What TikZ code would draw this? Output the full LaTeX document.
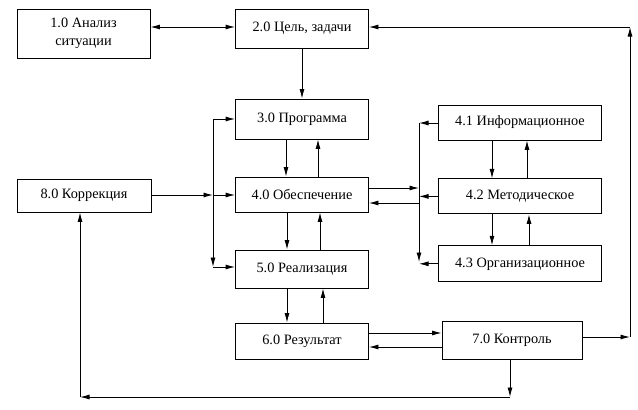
\documentclass[tikz,border=0pt]{standalone}
\usepackage{fontspec}
\setmainfont{Liberation Serif}
\newfontfamily\blokfont{Liberation Serif}
\usetikzlibrary{arrows.meta,positioning}

\begin{document}
\begin{tikzpicture}[
    x=1pt, y=-1pt,
    every node/.style={font=\blokfont\fontsize{14.3}{18}\selectfont},
    blok/.style={draw, line width=0.9pt, inner sep=0pt, align=center},
    arr/.style={-{Latex[length=9.5pt,width=5pt]}, line width=0.9pt},
    dvarr/.style={{Latex[length=9.5pt,width=5pt]}-{Latex[length=9.5pt,width=5pt]}, line width=0.9pt}
    ]
    \useasboundingbox (0,0) rectangle (638,410);

    \node[blok, minimum width=133pt, minimum height=49pt] (n1) at (83.5,33.5) {1.0 Анализ\\ситуации};
    \node[blok, minimum width=133pt, minimum height=39pt] (n2) at (302,28.5) {2.0 Цель, задачи};
    \node[blok, minimum width=133pt, minimum height=40pt] (n3) at (302,119) {3.0 Программа};
    \node[blok, minimum width=133pt, minimum height=35pt] (n4) at (302,194.5) {4.0 Обеспечение};
    \node[blok, minimum width=133pt, minimum height=38pt] (n5) at (302,269) {5.0 Реализация};
    \node[blok, minimum width=133pt, minimum height=36pt] (n6) at (302,341) {6.0 Результат};
    \node[blok, minimum width=140pt, minimum height=38pt] (n7) at (512,340) {7.0 Контроль};
    \node[blok, minimum width=134pt, minimum height=33pt] (n8) at (84,195.5) {8.0 Коррекция};

    \node[blok, minimum width=163pt, minimum height=35pt] (n41) at (520,122.5) {4.1 Информационное};
    \node[blok, minimum width=163pt, minimum height=35pt, below=38pt of n41] (n42) {4.2 Методическое};
    \node[blok, minimum width=163pt, minimum height=36pt, below=31pt of n42] (n43) {4.3 Организационное};

    \coordinate (la) at (213,195);
    \coordinate (lb) at (213,267);
    \coordinate (ma) at (419,123);
    \coordinate (mb) at (419,262);
    \coordinate (ea) at (419,188);
    \coordinate (eb) at (419,203);
    \coordinate (ra) at (630,337);
    \coordinate (rb) at (630,27);
    \coordinate (ba) at (510,397);
    \coordinate (bb) at (80,397);

    \draw[dvarr] (n1.east |- rb) -- (rb -| n2.west);
    \draw[arr] (n2.south) -- (n3.north);

    \draw[arr] ([xshift=-16pt]n3.south) -- ([xshift=-16pt]n4.north);
    \draw[arr] ([xshift=16pt]n4.north) -- ([xshift=16pt]n3.south);
    \draw[arr] ([xshift=-15pt]n4.south) -- ([xshift=-15pt]n5.north);
    \draw[arr] ([xshift=18pt]n5.north) -- ([xshift=18pt]n4.south);
    \draw[arr] ([xshift=-15pt]n5.south) -- ([xshift=-15pt]n6.north);
    \draw[arr] ([xshift=21pt]n6.north) -- ([xshift=21pt]n5.south);
    \draw[arr] ([yshift=8pt]n6.east) -- ([yshift=7pt]n7.west);
    \draw[arr] ([yshift=-7pt]n7.west) -- ([yshift=-6pt]n6.east);

    \draw[arr] ([xshift=-28pt]n41.south) -- ([xshift=-28pt]n42.north);
    \draw[arr] ([xshift=7pt]n42.north) -- ([xshift=7pt]n41.south);
    \draw[arr] ([xshift=-28pt]n42.south) -- ([xshift=-28pt]n43.north);
    \draw[arr] ([xshift=9pt]n43.north) -- ([xshift=9pt]n42.south);

    \draw[arr] (n8.east |- la) -- (la);
    \draw[arr] (la) -- (la -| n4.west);
    \draw[arr] (la) |- (n3.west);
    \draw[arr] (la) -- (lb);
    \draw[arr] (lb) -- (lb -| n5.west);

    \draw[arr] (n4.east |- ea) -- (ea);
    \draw[arr] (eb) -- (n4.east |- eb);
    \draw[arr] (ma) -- (mb);
    \draw[arr] (n41.west |- ma) -- (ma);
    \draw[arr] (n42.west) -- (n42.west -| ma);
    \draw[arr] (n43.west) -- (n43.west -| ma);

    \draw[arr] (n7.east |- ra) -- (ra);
    \draw[arr] (ra) -- (rb);
    \draw[arr] (rb) -- (rb -| n2.east);

    \draw[arr] (ba |- n7.south) -- (ba);
    \draw[arr] (ba) -- (bb);
    \draw[arr] (bb) -- (bb |- n8.south);
\end{tikzpicture}
\end{document}
